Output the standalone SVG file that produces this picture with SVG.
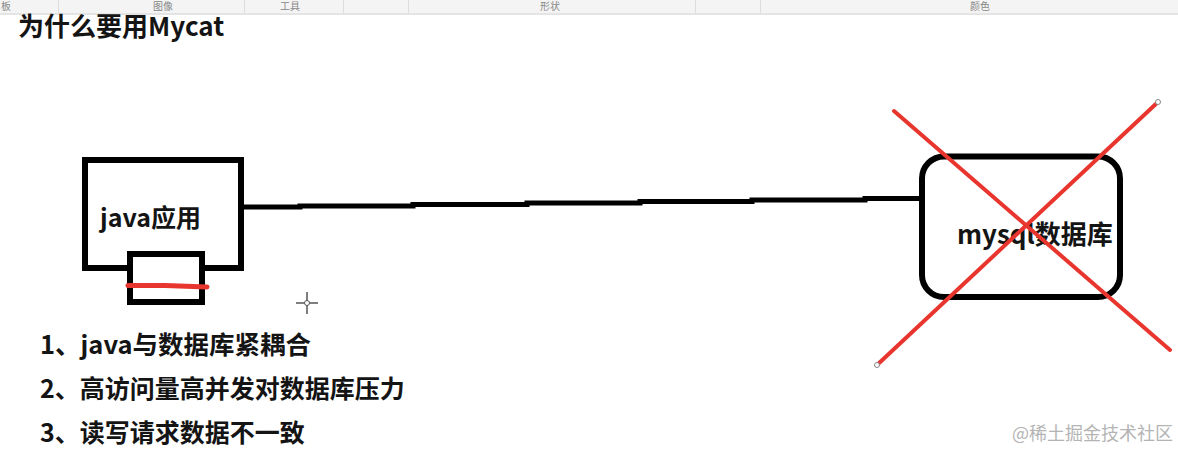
<svg xmlns="http://www.w3.org/2000/svg" width="1178" height="453" viewBox="0 0 1178 453">
  <style>
    .cjk { font-family: "Noto Sans CJK SC", "Noto Sans", sans-serif; }
    .bold { font-weight: bold; fill: #141414; }
    .box { fill: #ffffff; stroke: #000000; stroke-width: 6; }
    .tb { font-size: 10px; fill: #888888; }
    .sep { stroke: #dddddd; stroke-width: 1; }
    .red { stroke: #e8362e; stroke-linecap: round; fill: none; }
    .handle { fill: #ffffff; stroke: #888888; stroke-width: 1; }
  </style>

  <rect x="0" y="0" width="1178" height="453" fill="#ffffff"/>

  <!-- toolbar remnant -->
  <g id="toolbar">
    <rect x="0" y="0" width="1178" height="13" fill="#f4f4f4"/>
    <rect x="0" y="13" width="1178" height="2" fill="#e4e4e4"/>
    <line class="sep" x1="58.5" y1="0" x2="58.5" y2="13"/>
    <line class="sep" x1="244.5" y1="0" x2="244.5" y2="13"/>
    <line class="sep" x1="343.5" y1="0" x2="343.5" y2="13"/>
    <line class="sep" x1="408.5" y1="0" x2="408.5" y2="13"/>
    <line class="sep" x1="695.5" y1="0" x2="695.5" y2="13"/>
    <line class="sep" x1="760.5" y1="0" x2="760.5" y2="13"/>
    <text class="cjk tb" x="1" y="10">板</text>
    <text class="cjk tb" x="153" y="10">图像</text>
    <text class="cjk tb" x="280" y="10">工具</text>
    <text class="cjk tb" x="540" y="10">形状</text>
    <text class="cjk tb" x="970" y="10">颜色</text>
  </g>

  <text id="title" class="cjk bold" x="18" y="36" font-size="26">为什么要用Mycat</text>

  <!-- connectors -->
  <g id="connectors">
    <path d="M244 207 H300 V206 H413 V204.5 H527 V203 H640 V201.5 H752 V200 H865 V198.5 H922" fill="none" stroke="#000000" stroke-width="5"/>
  </g>

  <g id="java-app">
    <rect class="box" x="85" y="160" width="156" height="108"/>
    <text class="cjk bold" x="100" y="227" font-size="25">java应用</text>
  </g>

  <g id="java-sub">
    <rect class="box" x="130" y="254" width="72" height="48"/>
    <path class="red" d="M128 285.5 L165 285.5 L207 287" stroke-width="5"/>
  </g>

  <g id="mysql-db">
    <rect class="box" x="922" y="156.5" width="198" height="140.5" rx="22" ry="22"/>
    <text class="cjk bold" x="957" y="244" font-size="26">mysql数据库</text>
  </g>

  <g id="cross-out">
    <line class="red" x1="894" y1="111" x2="1170" y2="350" stroke-width="4"/>
    <line class="red" x1="877" y1="365" x2="1158" y2="102" stroke-width="4"/>
    <circle class="handle" cx="877" cy="365" r="2.5"/>
    <circle class="handle" cx="1158" cy="102" r="2.5"/>
  </g>

  <g id="cursor" stroke="#555555" stroke-width="1.5">
    <line x1="296" y1="303" x2="318" y2="303"/>
    <line x1="307" y1="292" x2="307" y2="314"/>
    <circle cx="307" cy="303" r="2.5" fill="#ffffff" stroke-width="1"/>
  </g>

  <g id="reasons">
    <text class="cjk bold" x="40" y="354" font-size="25.5">1、java与数据库紧耦合</text>
    <text class="cjk bold" x="40" y="398" font-size="25">2、高访问量高并发对数据库压力</text>
    <text class="cjk bold" x="40" y="442" font-size="25">3、读写请求数据不一致</text>
  </g>

  <text id="watermark" class="cjk" x="1012" y="440" font-size="18" fill="#b4b4b4">@稀土掘金技术社区</text>
</svg>
